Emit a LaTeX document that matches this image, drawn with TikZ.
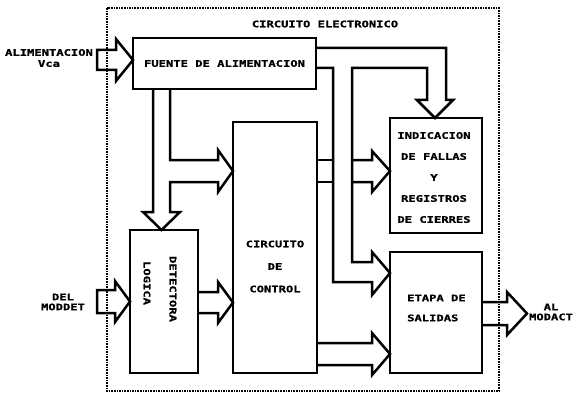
\documentclass[tikz,border=0pt]{standalone}
\usepackage{fontspec}
\newfontfamily\dm[FakeStretch=1.35,FakeBold=1.2]{DejaVu Sans Mono}
\usetikzlibrary{calc}
\begin{document}
\begin{tikzpicture}[x=1pt,y=-1pt,
  blk/.style={draw, line width=2.6pt, inner sep=0pt, outer sep=0pt},
  conn/.style={draw, line width=2.5pt, line join=miter},
  frame/.style={draw, line width=1.1pt, dash pattern=on 1.6pt off 1pt},
  txt/.style={inner sep=0pt, align=center, font={\dm\bfseries\fontsize{9}{10}\selectfont}},
  txtA/.style={inner sep=0pt, align=center, font={\dm\bfseries\fontsize{9}{21}\selectfont}},
  txtB/.style={inner sep=0pt, align=center, font={\dm\bfseries\fontsize{9}{22.5}\selectfont}},
  txtC/.style={inner sep=0pt, align=left, font={\dm\bfseries\fontsize{9}{20}\selectfont}}]
\useasboundingbox (0,0) rectangle (578,393);

% outer frame
\draw[frame] (107,8) rectangle (499,391);
\node[txt] (title) at (325,24) {CIRCUITO ELECTRONICO};

% blocks
\node[blk, minimum width=183pt, minimum height=51pt, txt] (fuente) at (224.5,63.5) {FUENTE DE ALIMENTACION};
\node[blk, minimum width=84pt, minimum height=251pt] (control) at (275,247.5) {};
\node[txtB] (controltxt) at ($(control.center)+(0,19)$) {CIRCUITO\\DE\\CONTROL};
\node[blk, minimum width=68pt, minimum height=143pt] (demux) at (164,301.5) {};
\node[txt, rotate=-90] (demuxtxtA) at (173,289) {DETECTORA};
\node[txt, rotate=-90] (demuxtxtB) at (147,283) {LOGICA};
\node[blk, minimum width=92pt, minimum height=115pt] (indic) at (436,175.5) {};
\node[txtA] (indictxt) at (434,177.5) {INDICACION\\DE FALLAS\\Y\\REGISTROS\\DE CIERRES};
\node[blk, minimum width=92pt, minimum height=121pt] (etapa) at (436,312.5) {};
\node[txtC, anchor=west] (etapatxt) at (407,308) {ETAPA DE\\SALIDAS};

% outside labels
\node[txt, font={\dm\bfseries\fontsize{9}{11}\selectfont}] (lblin) at (49,58) {ALIMENTACION\\Vca};
\node[txt] (lblmod) at (63,302) {DEL\\MODDET};
\node[txt] (lblout) at (551,312) {AL\\MODACT};

% input arrow to fuente
\draw[conn] (97,50) -- (116,50) -- (116,39) -- (fuente.west |- 0,60) -- (116,81) -- (116,70) -- (97,70) -- cycle;
% input arrow to demux
\draw[conn] (97,290) -- (115,290) -- (115,281) -- (demux.west |- 0,301.5) -- (115,322) -- (115,313) -- (97,313) -- cycle;
% demux -> control
\draw[conn] (demux.east |- 0,292) -- (218,292) -- (218,282) -- (control.west |- 0,302.5) -- (218,323) -- (218,313) -- (demux.east |- 0,313);
% fuente -> demux and control
\draw[conn] (fuente.south -| 153,0) -- (153,212) -- (143,212) -- (demux.north -| 161.5,0) -- (180,212) -- (170,212) -- (170,182) -- (218,182) -- (218,192) -- (control.west |- 0,171) -- (218,150) -- (218,160) -- (170,160) -- (fuente.south -| 170,0);
% fuente -> indic and etapa
\draw[conn] (fuente.east |- 0,48) -- (446,48) -- (446,100) -- (453,100) -- (indic.north -| 435,0) -- (417,100) -- (427,100) -- (427,68) -- (352,68) -- (352,262) -- (372,262) -- (372,252) -- (etapa.west |- 0,273) -- (372,295) -- (372,282) -- (333,282) -- (333,68) -- (fuente.east |- 0,68);
% control -> indic (crossing the supply channel)
\draw[conn] (control.east |- 0,160) -- (333,160);
\draw[conn] (control.east |- 0,182) -- (333,182);
\draw[conn] (352,160) -- (372,160) -- (372,151) -- (indic.west |- 0,171) -- (372,192) -- (372,182) -- (352,182);
% control -> etapa
\draw[conn] (control.east |- 0,343) -- (372,343) -- (372,333) -- (etapa.west |- 0,354) -- (372,375) -- (372,365) -- (control.east |- 0,365);
% etapa -> output
\coordinate (outtip) at (527,313.5);
\draw[conn] (etapa.east |- 0,302) -- (507,302) -- (507,292) -- (outtip) -- (507,335) -- (507,325) -- (etapa.east |- 0,325);
\end{tikzpicture}
\end{document}
